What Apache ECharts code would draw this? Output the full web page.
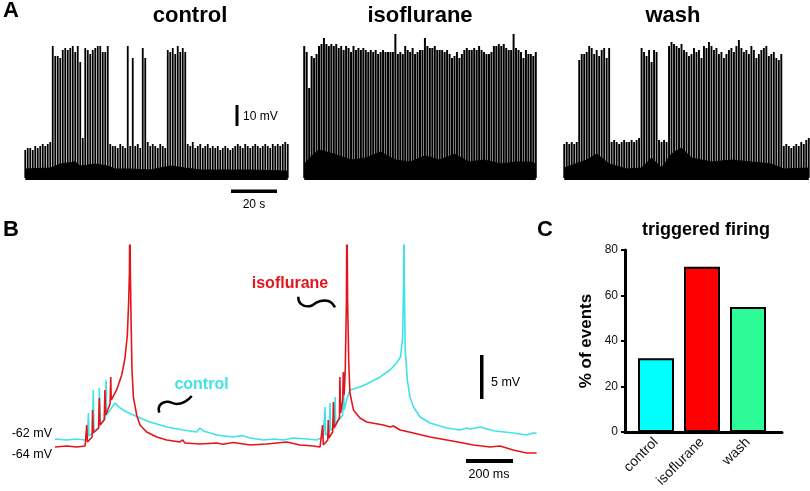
<!DOCTYPE html>
<html><head><meta charset="utf-8">
<script src="https://cdn.jsdelivr.net/npm/echarts@6/dist/echarts.min.js"></script>
<style>html,body{margin:0;padding:0;background:#fff}#c{width:810px;height:491px}</style>
</head><body><div id="c"></div>
<script>
const FONT = '"Liberation Sans", Arial, Helvetica, sans-serif';

// ---------- Panel A: event peak amplitudes (mV above baseline), one value per event ----------
const ctrlPeaks = [14,15,15,14,16,15,16,17,16,17,18,
  66,61,61,60,64,65,64,65,66,63,66,58,
  20,
  65,64,62,64,65,66,66,63,63,66,
  17,16,16,15,17,16,15,
  66,16,60,16,17,15,65,60,
  18,16,17,16,15,17,16,15,
  64,63,65,62,66,63,65,63,
  17,16,18,15,16,17,15,16,17,15,16,15,16,14,15,16,15,14,15,16,17,16,15,17,16,15,16,17,16,15,16,17,16,15,17,16,17,16,17,18,17];
const isoPeaks = [66,63,45,61, 60,62,66,67, 70,67,66,67, 66,67,65,66, 64,66,65,63, 66,64,65,64, 65,64,63,64, 63,64,62,63,
  64,63,63,63, 63,72,62,63, 62,66,64,63, 65,62,63,64, 64,70,66,65, 65,66,64,64, 64,63,64,62, 60,61,63,60, 62,64,65,64,
  64,65,64,66, 64,63,62,62, 63,66,66,67, 66,67,65,64, 64,72,65,64, 63,60,64,62, 62,61,63];
const washPeaks = [17,18,17,18,17,18,
  59,62,62,63,66,65,62,64,61,64,65,60,65,
  18,19,18,17,18,19,18,18,19,18,19,20,
  65,63,61,64,58,64,63,
  19,18,19,18,
  66,68,67,66,65,67,64,63,
  61,62,65,63,64,60,66,65,68,66,64,65,62,63,60,62,64,65,63,66,69,65,63,64,62,66,64,60,62,64,65,66,61,62,63,60,59,62,
  16,17,16,15,16,17,16,18,17,19,20];
// dense baseline band top (event index, mV)
const ctrlBand = [[0,4.5],[10,5],[14,7],[20,8],[22,6],[28,7],[33,6],[36,4.5],[42,4.5],[50,4],[58,6],[64,5],[70,4],[90,4],[105,3.5]];
const isoBand = [[0,7],[3,11],[6,14],[12,12],[19,9],[25,10],[31,13],[37,9],[43,8],[49,11],[55,9],[61,12],[67,8],[73,9],[80,7],[86,8],[92,8],[94,7]];
const washBand = [[0,5],[9,9],[13,12],[18,7],[25,4.5],[31,5],[35,10],[39,5],[43,12],[47,15],[51,10],[59,8],[67,9],[75,8],[83,7],[88,4.5],[98,5]];
const aTitles = ['control','isoflurane','wash'];

// ---------- Panel B: traces [time ms, membrane potential mV] ----------
const controlTrace = [[0,-62],[50,-62.11],[93,-62],[129,-62.11],[139,-61.89],[143,-59.05],[146,-61.66],[161,-61.32],[164,-56.43],[167,-61.09],
  [187,-60.75],[190,-56.2],[193,-60.41],[216,-59.61],[219,-55.3],[221,-59.27],[236,-58.7],[257,-57.91],[279,-58.48],[307,-58.93],
  [336,-59.27],[364,-59.61],[407,-60.07],[479,-60.64],[550,-60.98],[607,-61.2],[621,-60.75],[636,-61.09],[693,-61.55],[764,-61.77],
  [800,-61.6],[836,-61.89],[893,-62.11],[940,-62.0],[979,-62.11],[1021,-61.89],[1079,-62],[1121,-62.11],[1150,-61.77],[1157,-58.36],[1160,-61.55],
  [1176,-61.2],[1179,-57.91],[1181,-60.98],[1197,-60.64],[1200,-57.23],[1203,-60.3],[1219,-59.73],[1233,-59.27],[1236,-54.5],
  [1239,-58.7],[1250,-57.57],[1264,-56.43],[1307,-56.09],[1336,-55.75],[1393,-54.95],[1436,-54.16],[1464,-53.36],[1481,-52.65],
  [1490,-50.38],[1494,-44],[1496,-35],[1497,-44],[1501,-51.89],[1510,-55.3],[1521,-57.19],[1536,-58.33],[1564,-59.47],[1607,-60.18],
  [1679,-60.75],[1736,-60.98],[1764,-60.75],[1779,-60.86],[1821,-60.64],[1879,-61.06],[1964,-61.32],[2021,-61.55],[2050,-61.32],[2064,-61.36]];
const isoTrace = [[0,-62.91],[50,-62.8],[93,-62.91],[129,-62.8],[133,-62.68],[136,-60.41],[139,-62.34],[159,-61.77],[161,-58.7],[164,-61.32],
  [187,-60.75],[190,-57.34],[193,-60.41],[211,-59.84],[214,-56.43],[217,-59.27],[236,-58.02],[239,-54.95],[241,-57.57],[264,-56.43],
  [286,-54.73],[300,-52.8],[310,-50.18],[316,-46.2],[319,-43],[321,-35],[323,-43],[326,-48.48],[330,-54.16],[336,-57.23],[350,-59.27],
  [364,-60.41],[393,-61.2],[436,-61.77],[479,-62.11],[536,-62.34],[547,-62.11],[557,-62.45],[621,-62.57],[693,-62.45],[720,-62.6],[764,-62.4],
  [836,-62.68],[907,-62.57],[950,-62.45],[993,-62.34],[1050,-62.68],[1107,-62.8],[1136,-62.91],[1143,-62.91],[1147,-60.41],[1150,-62.68],
  [1169,-62.11],[1171,-59.84],[1174,-61.89],[1190,-61.2],[1193,-57.8],[1196,-60.75],[1219,-59.61],[1221,-54.95],[1224,-59.05],[1233,-57.57],
  [1236,-54.39],[1239,-57],[1244,-54.16],[1249,-46.2],[1251,-35],[1254,-46.2],[1259,-53.3],[1264,-56.77],[1279,-58.7],[1307,-59.61],
  [1336,-60.07],[1407,-60.41],[1436,-60.64],[1450,-60.52],[1479,-60.98],[1536,-61.32],[1607,-61.77],[1679,-62.11],[1721,-62.31],
  [1793,-62.68],[1864,-62.91],[1907,-62.8],[1964,-63.25],[2021,-63.59],[2064,-63.59]];

// ---------- Panel C ----------
const cCategories = ['control','isoflurane','wash'];
const cValues = [32.4, 72.6, 55.0];
const cColors = ['#00ffff','#ff0000','#2cfb98'];
const cTickMax = 80, cTickStep = 20;

const grids = [], xAxes = [], yAxes = [], series = [];
function addTrace(peaks, band, left, width, barW){
  const k = grids.length;
  grids.push({left:left, top:30, width:width, height:150});
  xAxes.push({gridIndex:k, type:'value', min:-0.5, max:peaks.length-0.5, show:false});
  yAxes.push({gridIndex:k, type:'value', min:-1, max:74, show:false});
  series.push({type:'line', xAxisIndex:k, yAxisIndex:k, data:band, symbol:'none',
    lineStyle:{color:'#000', width:1}, areaStyle:{color:'#000', opacity:1, origin:'start'}, silent:true});
  series.push({type:'bar', xAxisIndex:k, yAxisIndex:k, data:peaks.map((v,i)=>[i,v]), barWidth:barW,
    itemStyle:{color:'#000'}, silent:true});
}
addTrace(ctrlPeaks, ctrlBand, 24, 265, 1.8);
addTrace(isoPeaks, isoBand, 303, 234, 2.0);
addTrace(washPeaks, washBand, 563, 247, 1.9);

// Panel B grid
grids.push({left:55, top:245.4, width:490, height:224.4});
xAxes.push({gridIndex:3, type:'value', min:0, max:2100, show:false});
yAxes.push({gridIndex:3, type:'value', min:-65.5, max:-40, show:false});
series.push({type:'line', xAxisIndex:3, yAxisIndex:3, data:controlTrace, symbol:'none', clip:true,
  lineStyle:{color:'#3fe3e6', width:1.6}, silent:true});
series.push({type:'line', xAxisIndex:3, yAxisIndex:3, data:isoTrace, symbol:'none', clip:true,
  lineStyle:{color:'#e5141b', width:1.6}, silent:true});

// Panel C grid
grids.push({left:625, top:250, width:157, height:182});
xAxes.push({gridIndex:4, type:'value', min:0.326, max:3.739,
  axisLine:{show:true, onZero:true, lineStyle:{color:'#000', width:3}},
  axisTick:{show:false}, splitLine:{show:false},
  axisLabel:{customValues:[1,2,3], formatter:v=>cCategories[Math.round(v)-1]||'', rotate:45, margin:8,
    fontFamily:FONT, fontSize:14, color:'#111'}});
yAxes.push({gridIndex:4, type:'value', min:0, max:cTickMax, interval:cTickStep,
  axisLine:{show:true, lineStyle:{color:'#000', width:3}},
  axisTick:{show:true, length:4, lineStyle:{color:'#000', width:2}},
  splitLine:{show:false},
  axisLabel:{fontFamily:FONT, fontSize:12, color:'#111', margin:7},
  name:'% of events', nameLocation:'middle', nameRotate:90, nameGap:30,
  nameTextStyle:{fontFamily:FONT, fontSize:17, fontWeight:'bold', color:'#000'}});
series.push({type:'bar', xAxisIndex:4, yAxisIndex:4, barWidth:36,
  data:cValues.map((v,i)=>({value:[i+1,v], itemStyle:{color:cColors[i]}})),
  itemStyle:{borderColor:'#000', borderWidth:2}, silent:true});

function txt(x,y,s,o){return Object.assign({type:'text', x:x, y:y, style:Object.assign({text:s, fontFamily:FONT, fill:'#000', textVerticalAlign:'middle'}, o||{})});}
const graphic = [
  txt(3,11,'A',{fontSize:22,fontWeight:'bold'}),
  txt(3,230,'B',{fontSize:22,fontWeight:'bold'}),
  txt(537,230,'C',{fontSize:22,fontWeight:'bold'}),
  txt(190,16,aTitles[0],{fontSize:22,fontWeight:'bold',textAlign:'center'}),
  txt(420,16,aTitles[1],{fontSize:22,fontWeight:'bold',textAlign:'center'}),
  txt(673,16,aTitles[2],{fontSize:22,fontWeight:'bold',textAlign:'center'}),
  {type:'rect', shape:{x:235.5,y:105,width:3,height:21}, style:{fill:'#000'}},
  txt(243,117,'10 mV',{fontSize:12}),
  {type:'rect', shape:{x:231,y:189.5,width:46,height:3.5}, style:{fill:'#000'}},
  txt(254,205,'20 s',{fontSize:12,textAlign:'center'}),
  txt(52,434,'-62 mV',{fontSize:12.5,textAlign:'right'}),
  txt(52,455,'-64 mV',{fontSize:12.5,textAlign:'right'}),
  txt(290,284,'isoflurane',{fontSize:16,fontWeight:'bold',textAlign:'center',fill:'#e5141b'}),
  txt(201.5,385,'control',{fontSize:16,fontWeight:'bold',textAlign:'center',fill:'#3fe3e6'}),
  {type:'polyline', shape:{points:[[298.3,296.7],[300.5,303.5],[309,306.3],[318.5,301.7],[328.3,301],[335,307.3]], smooth:0.5},
    style:{stroke:'#000', lineWidth:2.5, fill:null}},
  {type:'polyline', shape:{points:[[159.3,412.7],[159.7,405.5],[166.7,401.7],[176.7,404],[185,401.7],[191.7,396]], smooth:0.5},
    style:{stroke:'#000', lineWidth:2.5, fill:null}},
  {type:'rect', shape:{x:480,y:355,width:3.5,height:44}, style:{fill:'#000'}},
  txt(491,383,'5 mV',{fontSize:12.5}),
  {type:'rect', shape:{x:466,y:459,width:47,height:4}, style:{fill:'#000'}},
  txt(489,475,'200 ms',{fontSize:12.5,textAlign:'center'}),
  txt(706,230,'triggered firing',{fontSize:18,fontWeight:'bold',textAlign:'center'})
];

const chart = echarts.init(document.getElementById('c'), null, {renderer:'canvas'});
chart.setOption({animation:false, backgroundColor:'#fff', grid:grids, xAxis:xAxes, yAxis:yAxes, series:series, graphic:graphic});
</script></body></html>
